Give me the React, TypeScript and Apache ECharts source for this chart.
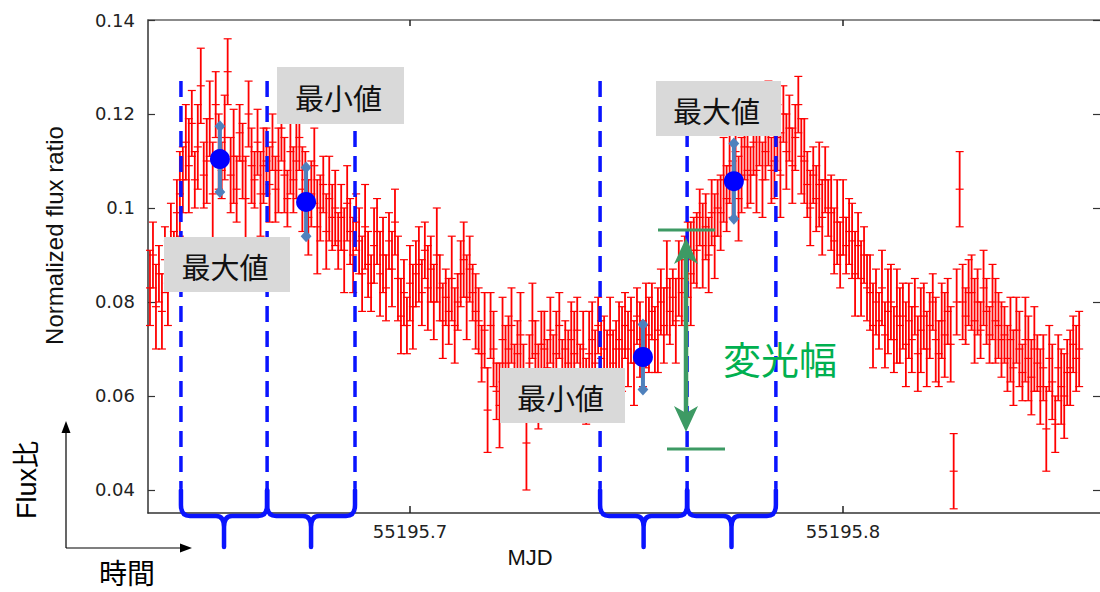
import React, { useEffect, useRef } from "react";
import * as echarts from "echarts";

// ---- axis ticks ----
const xTicks = [55195.7, 55195.8];
const yTicks = [0.04, 0.06, 0.08, 0.1, 0.12, 0.14];
const xMin = 55195.639492;
const xMax = 55195.859353;
const yMin = 0.035106;
const yMax = 0.14;

// ---- light curve (flux ratio in percent, 1-sigma error in percent) ----
const t0 = 55195.63995; // MJD of first exposure
const cadence = 0.00069; // days between exposures
const fluxPct = [
  8.3, 9.0, 7.9, 8.6, 7.8, 8.9, 8.4,
  9.3, 8.9, 9.9, 10.3,
  10.6, 11.4, 10.9, 11.8, 10.6, 11.3, 12.6, 10.7, 11.0, 11.9,
  10.3, 12.2, 11.2, 10.8, 11.5, 12.9, 10.7, 11.1, 10.4, 11.6,
  11.0, 10.2, 12.0, 10.9, 10.6, 11.4, 10.3, 10.9,
  11.0, 10.5, 11.4, 10.4, 10.8, 11.7, 10.7, 10.2, 11.2, 10.6, 11.0, 11.5, 10.4,
  10.6, 9.8, 10.3, 10.9, 9.6, 10.0, 10.5, 9.5, 10.2, 9.8,
  10.0, 9.3, 9.8, 9.1, 10.1, 9.5, 9.0, 9.7,
  9.3, 8.6, 9.6, 8.8, 8.4, 9.2, 9.5, 8.6, 9.0, 8.3, 9.3, 8.7, 9.7,
  8.5, 7.7, 8.2, 7.5, 8.4, 7.9, 8.6,
  8.8, 8.2, 9.1, 8.3, 8.7, 8.0, 9.0,
  8.3, 7.6, 8.1, 7.8, 8.5, 7.5, 8.0,
  8.6, 8.9, 8.1, 8.7, 8.2, 7.8,
  7.6, 6.9, 7.4, 5.7, 7.5, 7.0, 6.1, 5.8,
  7.2, 6.7, 7.0, 7.5, 6.5, 6.9, 7.3, 6.3, 5.0, 6.7,
  7.6, 6.9, 6.2, 7.1, 7.0, 6.6, 7.4, 6.5, 6.9, 7.5,
  6.4, 7.0, 6.7, 7.2, 6.9, 7.4, 6.5, 7.0, 6.1, 6.9,
  7.2, 6.7, 7.5, 6.8, 7.0, 6.5, 7.3, 6.7, 7.0, 7.2,
  7.0, 7.5, 7.0, 7.4, 6.7, 7.7, 7.2, 6.9, 7.5, 7.3, 7.8, 7.2,
  7.4, 8.0, 7.5, 8.3, 7.8, 8.1, 7.6, 8.5, 8.2,
  8.5, 8.9, 8.6, 9.1,
  9.1, 9.8, 9.2, 9.6, 9.0, 9.9, 9.4, 10.0,
  9.9, 10.6, 10.2, 10.9, 10.4, 11.2, 10.2, 10.7, 11.3, 10.8,
  10.7, 11.4, 10.8, 11.6, 10.6, 11.2, 11.8, 10.8, 11.0, 11.5, 10.7,
  12.0, 11.2, 11.7, 10.9, 11.5, 12.2, 11.1,
  11.0, 10.5, 10.0, 10.7, 10.2, 10.5, 9.8, 10.6, 10.0,
  9.9, 9.3, 9.7, 9.0, 9.8, 9.2, 9.5,
  9.3, 8.6, 9.2, 8.5, 9.0, 8.3,
  8.2, 7.5, 8.0, 7.6, 8.3, 7.3, 7.8, 8.0, 7.2, 7.7, 7.5,
  7.7, 7.1, 7.6, 7.2, 7.9, 6.9, 7.4, 7.7, 7.0, 7.5, 8.0, 7.2, 6.9, 7.6, 7.3, 7.8, 7.1,
  4.4, 8.0, 10.4, 8.0, 7.7, 8.2,
  8.2, 7.6, 8.0, 7.4, 8.3, 7.8, 7.3, 8.0, 7.6, 7.5, 7.2,
  7.3, 6.8, 7.2, 6.6, 7.4, 7.0, 6.5, 7.2, 6.8, 6.4, 7.0,
  6.7, 6.2, 6.6, 5.3, 6.8, 6.3, 5.4, 6.6, 6.2, 6.0, 6.5,
  6.6, 7.1, 6.8, 7.0,
];
const fluxErrPct = [
  0.8, 0.7, 0.9, 0.6, 0.8, 0.7, 0.9, 0.8, 0.6, 0.7,
  0.9, 0.7, 0.8, 1.0, 0.7, 0.6, 0.9, 0.8, 0.7, 0.9,
  0.8, 1.1, 0.7, 0.8, 0.6, 0.9, 0.7, 0.8, 1.0, 0.7,
  0.6, 0.8, 0.9, 0.7, 0.8, 0.6, 0.7, 0.9, 0.8, 0.7,
  0.8, 0.6, 0.7, 0.9, 0.7, 0.8, 0.6, 0.9, 0.7, 0.8,
  0.7, 0.9, 0.6, 0.8, 0.7, 0.8, 1.0, 0.7, 0.6, 0.8,
  0.9, 0.7, 0.8, 0.6, 0.7, 0.9, 0.8, 0.7, 0.8, 0.6,
  0.7, 0.8, 0.9, 0.7, 0.6, 0.8, 0.7, 0.9, 0.8, 0.7,
  0.6, 0.8, 0.7, 0.9, 0.8, 0.7, 0.6, 0.8, 0.9, 0.7,
  0.8, 0.7, 0.6, 0.9, 0.7, 0.8, 1.0, 0.7, 0.8, 0.6,
  0.7, 0.9, 0.8, 0.6, 0.7, 0.8, 0.9, 0.7, 0.6, 0.8,
  0.7, 0.6, 0.8, 0.9, 0.7, 0.8, 0.6, 0.9, 0.9, 0.8,
  0.7, 0.8, 0.6, 0.7, 0.9, 0.8, 1.0, 0.6, 0.8, 0.7,
  0.9, 0.7, 0.8, 0.6, 0.7, 0.8, 0.9, 0.7, 0.8, 0.6,
  0.7, 0.8, 0.9, 0.7, 0.6, 0.8, 0.7, 0.9, 0.8, 0.7,
  0.6, 0.8, 0.7, 0.9, 0.8, 0.7, 0.6, 0.8, 0.9, 0.7,
  0.8, 0.7, 0.9, 0.6, 0.8, 0.7, 0.9, 0.8, 0.6, 0.7,
  0.9, 0.7, 0.8, 1.0, 0.7, 0.6, 0.9, 0.8, 0.7, 0.9,
  0.8, 1.1, 0.7, 0.8, 0.6, 0.9, 0.7, 0.8, 0.7, 0.9,
  0.6, 0.8, 0.9, 0.7, 0.8, 0.6, 0.7, 0.9, 0.8, 0.7,
  0.8, 0.6, 0.7, 0.9, 0.7, 0.8, 0.6, 0.9, 0.7, 0.8,
  0.7, 0.9, 0.6, 0.8, 0.7, 0.8, 0.7, 0.6, 0.8, 0.9,
  0.7, 0.8, 0.6, 0.7, 0.9, 0.8, 0.7, 0.6, 0.8, 0.7,
  0.9, 0.7, 0.8, 0.6, 0.7, 0.8, 0.9, 0.7, 0.8, 0.6,
  0.7, 0.8, 0.9, 0.7, 0.6, 0.8, 0.7, 0.9, 0.8, 0.7,
  1.0, 0.8, 0.7, 0.9, 0.8, 0.7, 0.6, 0.8, 0.9, 0.7,
  0.8, 0.7, 0.6, 0.9, 0.7, 0.8, 0.9, 0.7, 0.8, 0.8,
  0.7, 0.8, 0.8, 0.6, 0.7, 0.8, 0.9, 0.7, 0.6, 0.8,
  0.7, 0.6, 0.8, 0.9, 0.7, 0.8, 0.6, 0.7, 0.9, 0.8,
  0.7, 0.8, 0.6, 0.9, 0.9, 0.8, 0.9, 0.6, 0.8, 0.7,
  0.9, 0.7, 0.8, 0.6, 0.7, 0.8, 0.9, 0.7, 0.8, 0.6,
  0.7, 0.8,
];

// ---- binned max / min points ----
const binTimes = [55195.6561, 55195.676, 55195.7538, 55195.7748];
const binFlux = [0.1104, 0.1013, 0.0683, 0.1057];
const binErr = [0.007, 0.0073, 0.0069, 0.008];

// ---- averaging windows (edges) and braces between them ----
const windowEdges = [55195.6471, 55195.667, 55195.6873, 55195.7439, 55195.764, 55195.7845];
const bracePairs = [
  [0, 1],
  [1, 2],
  [3, 4],
  [4, 5],
];
const windowTop = 0.127;
const windowBottom = 0.04;

const RED = "#ff0000";
const BLUE = "#0a14ff";
const STEEL = "#4f81bd";
const GREEN_ARROW = "#3d9a64";
const GREEN_TEXT = "#00b050";
const BOX = "#d9d9d9";
const CJK = '"Noto Sans CJK JP", "Noto Sans CJK SC", sans-serif';
const SANS = '"Liberation Sans", Arial, "Noto Sans CJK JP", sans-serif';

function renderErrorBar(_params: any, api: any) {
  const x = api.value(0);
  const y = api.value(1);
  const e = api.value(2);
  const p = api.coord([x, y]);
  const top = api.coord([x, y + e]);
  const bot = api.coord([x, y - e]);
  const hw = 4;
  const style = { stroke: RED, lineWidth: 1.8, fill: null };
  const capStyle = { stroke: RED, lineWidth: 1.2, fill: null };
  return {
    type: "group",
    children: [
      { type: "line", shape: { x1: p[0], y1: top[1], x2: p[0], y2: bot[1] }, style },
      { type: "line", shape: { x1: p[0] - hw, y1: top[1], x2: p[0] + hw, y2: top[1] }, style: capStyle },
      { type: "line", shape: { x1: p[0] - hw, y1: bot[1], x2: p[0] + hw, y2: bot[1] }, style: capStyle },
      { type: "line", shape: { x1: p[0] - hw, y1: p[1], x2: p[0] + hw, y2: p[1] }, style: capStyle },
    ],
  };
}

function renderBinBar(_params: any, api: any) {
  const x = api.value(0);
  const y = api.value(1);
  const e = api.value(2);
  const t = api.coord([x, y + e]);
  const b = api.coord([x, y - e]);
  const d = 6;
  const diamond = (cx: number, cy: number) => ({
    type: "polygon",
    shape: { points: [[cx, cy - d], [cx + d * 0.9, cy], [cx, cy + d], [cx - d * 0.9, cy]] },
    style: { fill: STEEL },
  });
  return {
    type: "group",
    children: [
      { type: "line", shape: { x1: t[0], y1: t[1], x2: b[0], y2: b[1] }, style: { stroke: STEEL, lineWidth: 4 } },
      diamond(t[0], t[1]),
      diamond(b[0], b[1]),
    ],
  };
}

function renderWindowLine(_params: any, api: any) {
  const x = api.value(0);
  const a = api.coord([x, windowTop]);
  const b = api.coord([x, windowBottom]);
  return {
    type: "line",
    shape: { x1: a[0], y1: a[1], x2: b[0], y2: b[1] - 2 },
    style: { stroke: BLUE, lineWidth: 3.5, lineDash: [16, 9], fill: null },
  };
}

function renderBrace(_params: any, api: any) {
  const a = api.coord([api.value(0), windowBottom]);
  const b = api.coord([api.value(1), windowBottom]);
  const y0 = a[1];
  const yh = y0 + 26;
  const xa = a[0];
  const xb = b[0];
  const cx = (xa + xb) / 2;
  const d =
    `M${xa} ${y0} L${xa} ${yh - 11} Q${xa} ${yh} ${xa + 9} ${yh} L${cx - 8} ${yh} ` +
    `Q${cx} ${yh} ${cx} ${yh + 11} L${cx} ${yh + 31} M${cx} ${yh + 11} ` +
    `Q${cx} ${yh} ${cx + 8} ${yh} L${xb - 9} ${yh} Q${xb} ${yh} ${xb} ${yh - 11} L${xb} ${y0}`;
  return {
    type: "path",
    shape: { pathData: d },
    style: { stroke: BLUE, lineWidth: 4.5, fill: null, lineJoin: "round", lineCap: "round" },
  };
}

function labelBox(x: number, y: number, w: number, h: number, text: string) {
  return [
    { type: "rect", z: 100, shape: { x, y, width: w, height: h }, style: { fill: BOX } },
    {
      type: "text",
      z: 101,
      x: x + w / 2 - 2,
      y: y + h / 2 + 1,
      style: {
        text,
        fill: "#111",
        fontSize: 29,
        fontFamily: CJK,
        align: "center",
        verticalAlign: "middle",
      },
    },
  ];
}

export default function App() {
  const ref = useRef<HTMLDivElement>(null);

  useEffect(() => {
    if (!ref.current) return;
    const chart = echarts.init(ref.current, null, { renderer: "svg" });

    const lightCurve = fluxPct.map((v, i) => [t0 + i * cadence, v / 100, fluxErrPct[i] / 100]);
    const bins = binTimes.map((t, i) => [t, binFlux[i], binErr[i]]);
    const braces = bracePairs.map(([i, j]) => [windowEdges[i], windowEdges[j], windowBottom]);

    const option: any = {
      animation: false,
      backgroundColor: "#ffffff",
      grid: { left: 148, top: 20, right: 0, bottom: 79, containLabel: false, outerBoundsMode: "none" },
      xAxis: [
        {
          type: "value",
          position: "bottom",
          min: xMin,
          max: xMax,
          axisLine: { lineStyle: { color: "#333", width: 1.5 } },
          axisTick: { inside: true, length: 7, customValues: xTicks, lineStyle: { color: "#222", width: 1.5 } },
          axisLabel: {
            customValues: xTicks,
            formatter: (v: number) => v.toFixed(1),
            margin: 9,
            fontSize: 18,
            color: "#222",
            fontFamily: "DejaVu Sans",
          },
          splitLine: { show: false },
          name: "MJD",
          nameLocation: "middle",
          nameGap: 33,
          nameTextStyle: { fontSize: 22, color: "#111", fontFamily: SANS, padding: [0, 188, 0, 0] },
        },
        {
          type: "value",
          position: "top",
          min: xMin,
          max: xMax,
          axisLine: { lineStyle: { color: "#666", width: 1.5 } },
          axisTick: { inside: true, length: 6, customValues: xTicks, lineStyle: { color: "#222", width: 1.5 } },
          axisLabel: { show: false },
          splitLine: { show: false },
        },
      ],
      yAxis: [
        {
          type: "value",
          position: "left",
          min: yMin,
          max: yMax,
          axisLine: { show: true, lineStyle: { color: "#333", width: 1.5 } },
          axisTick: { show: true, inside: true, length: 7, customValues: yTicks, lineStyle: { color: "#333", width: 1.2 } },
          axisLabel: {
            customValues: yTicks,
            formatter: (v: number) => String(+v.toFixed(2)),
            margin: 13,
            fontSize: 18,
            color: "#222",
            fontFamily: "DejaVu Sans",
          },
          splitLine: { show: false },
          name: "Normalized flux ratio",
          nameLocation: "middle",
          nameRotate: 90,
          nameGap: 82,
          nameTextStyle: { fontSize: 24, color: "#111", fontFamily: SANS, padding: [0, 0, 0, 62] },
        },
        {
          type: "value",
          position: "right",
          min: yMin,
          max: yMax,
          axisLine: { show: false },
          axisTick: { show: true, inside: true, length: 7, customValues: yTicks, lineStyle: { color: "#333", width: 1.2 } },
          axisLabel: { show: false },
          splitLine: { show: false },
        },
      ],
      series: [
        {
          type: "custom",
          name: "flux",
          xAxisIndex: 0,
          yAxisIndex: 0,
          clip: false,
          z: 1,
          renderItem: renderErrorBar,
          encode: { x: 0, y: 1 },
          data: lightCurve,
        },
        {
          type: "custom",
          name: "windows",
          clip: false,
          z: 3,
          renderItem: renderWindowLine,
          encode: { x: 0, y: 1 },
          data: windowEdges.map((v) => [v, windowTop]),
        },
        {
          type: "custom",
          name: "braces",
          clip: false,
          z: 3,
          renderItem: renderBrace,
          encode: { x: [0, 1], y: 2 },
          data: braces,
        },
        {
          type: "custom",
          name: "binErr",
          clip: false,
          z: 4,
          renderItem: renderBinBar,
          encode: { x: 0, y: 1 },
          data: bins,
        },
        {
          type: "scatter",
          name: "bins",
          z: 5,
          symbol: "circle",
          symbolSize: 20,
          itemStyle: { color: "#0000ff", opacity: 1 },
          data: bins.map((b) => [b[0], b[1]]),
        },
      ],
      graphic: {
        elements: [
          ...labelBox(164, 237, 126, 55, "最大値"),
          ...labelBox(277, 67, 127, 57, "最小値"),
          ...labelBox(500, 368, 125, 55, "最小値"),
          ...labelBox(656, 81, 125, 55, "最大値"),
          // amplitude arrow
          { type: "line", z: 102, shape: { x1: 658, y1: 230, x2: 715, y2: 230 }, style: { stroke: GREEN_ARROW, lineWidth: 3 } },
          { type: "line", z: 102, shape: { x1: 667, y1: 449, x2: 725, y2: 449 }, style: { stroke: GREEN_ARROW, lineWidth: 3 } },
          { type: "line", z: 102, shape: { x1: 686, y1: 255, x2: 686, y2: 415 }, style: { stroke: GREEN_ARROW, lineWidth: 4.5 } },
          {
            type: "polygon",
            z: 102,
            shape: { points: [[686, 238], [698, 264], [686, 257], [674, 264]] },
            style: { fill: GREEN_ARROW },
          },
          {
            type: "polygon",
            z: 102,
            shape: { points: [[686, 432], [698, 406], [686, 413], [674, 406]] },
            style: { fill: GREEN_ARROW },
          },
          {
            type: "text",
            z: 102,
            x: 780,
            y: 357,
            style: { text: "変光幅", fill: GREEN_TEXT, fontSize: 38, fontFamily: CJK, align: "center", verticalAlign: "middle" },
          },
          // schematic axes bottom-left
          { type: "line", z: 102, shape: { x1: 66, y1: 548, x2: 66, y2: 430 }, style: { stroke: "#000", lineWidth: 1.2 } },
          { type: "polygon", z: 102, shape: { points: [[66, 421], [70.5, 433], [61.5, 433]] }, style: { fill: "#000" } },
          { type: "line", z: 102, shape: { x1: 66, y1: 548, x2: 181, y2: 548 }, style: { stroke: "#000", lineWidth: 1.2 } },
          { type: "polygon", z: 102, shape: { points: [[192, 548], [180, 543.5], [180, 552.5]] }, style: { fill: "#000" } },
          {
            type: "text",
            z: 102,
            x: 27,
            y: 480,
            rotation: Math.PI / 2,
            style: { text: "Flux比", fill: "#000", fontSize: 27, fontFamily: SANS, align: "center", verticalAlign: "middle" },
          },
          {
            type: "text",
            z: 102,
            x: 127,
            y: 572,
            style: { text: "時間", fill: "#000", fontSize: 28, fontFamily: CJK, align: "center", verticalAlign: "middle" },
          },
        ],
      },
    };

    chart.setOption(option);
    return () => chart.dispose();
  }, []);

  return (
    <div
      ref={ref}
      style={{ position: "fixed", left: 0, top: 0, width: 1100, height: 592, background: "#fff" }}
    />
  );
}
